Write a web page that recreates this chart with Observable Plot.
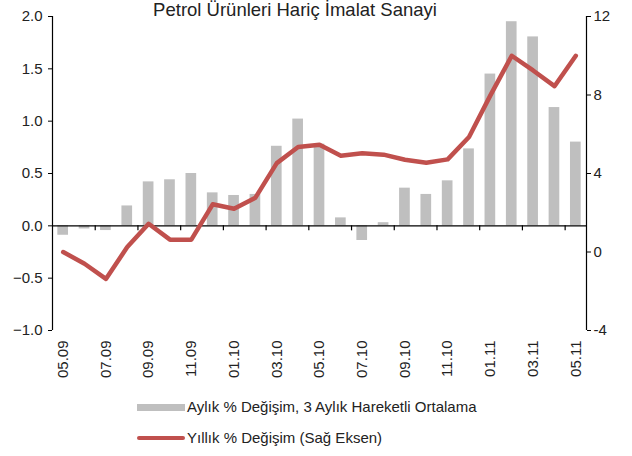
<!DOCTYPE html>
<html><head><meta charset="utf-8">
<script src="https://cdn.jsdelivr.net/npm/d3@7"></script>
<script src="https://cdn.jsdelivr.net/npm/@observablehq/plot@0.6"></script>
<style>
body{margin:0;background:#fff;font-family:"Liberation Sans",Arial,sans-serif;}
#wrap{position:relative;width:632px;height:456px;overflow:hidden;background:#fff}
#title{position:absolute;left:0;width:590px;text-align:center;top:0px;font-size:18.5px;color:#222;line-height:20px}
#chart{position:absolute;left:0;top:0}
.leg{position:absolute;left:137px;font-size:15px;line-height:18px;display:flex;align-items:center;color:#222;white-space:nowrap}
.sw{display:inline-block;width:48px;margin-right:2px}
</style></head>
<body>
<div id="wrap">
  <div id="chart"></div>
  <div id="title">Petrol Ürünleri Hariç İmalat Sanayi</div>
  <div class="leg" style="top:398px"><span class="sw" style="height:7px;background:#bfbfbf"></span>Aylık % Değişim, 3 Aylık Hareketli Ortalama</div>
  <div class="leg" style="top:429px"><span class="sw" style="height:4px;background:#c0504d;border-radius:2px"></span>Yıllık % Değişim (Sağ Eksen)</div>
</div>
<script>
const months = ["05.09","06.09","07.09","08.09","09.09","10.09","11.09","12.09",
  "01.10","02.10","03.10","04.10","05.10","06.10","07.10","08.10","09.10","10.10","11.10","12.10",
  "01.11","02.11","03.11","04.11","05.11"];
const monthly = [-0.09,-0.03,-0.045,0.19,0.42,0.44,0.50,0.315,
  0.29,0.30,0.76,1.02,0.78,0.076,-0.14,0.03,0.36,0.30,0.43,0.735,
  1.45,1.95,1.805,1.13,0.80];
const annual = [0.0,-0.6,-1.37,0.25,1.44,0.63,0.63,2.43,
  2.2,2.77,4.53,5.35,5.47,4.91,5.03,4.96,4.70,4.55,4.72,5.86,
  7.98,10.0,9.25,8.45,10.0];
const leftTicks = [-1,-0.5,0,0.5,1,1.5,2];
const rightTicks = [-4,0,4,8,12];

const toLeft = r => (3*r - 4)/16;
const fromLeft = v => Math.round((16*v + 4)/3);
const barData = months.map((m,i)=>({i, v: monthly[i]}));
const lineData = months.map((m,i)=>({i, v: toLeft(annual[i])}));
const labelIdx = months.map((m,i)=>i).filter(i=>i%2===0);
const tickPos = months.map((m,i)=>i).filter(i=>i%2===0 && i>0).map(i=>i-0.5);

const chart = Plot.plot({
  width:632, height:385, marginTop:16, marginBottom:55, marginLeft:52, marginRight:46,
  style:{fontFamily:'"Liberation Sans",Arial,sans-serif', fontSize:"15px", color:"#222", background:"transparent"},
  x:{domain:[-0.5,24.5], axis:null},
  y:{domain:[-1,2], axis:null},
  marks:[
    Plot.rectY(barData,{x1:d=>d.i-0.25, x2:d=>d.i+0.25, y1:0, y2:"v", fill:"#bfbfbf"}),
    Plot.ruleY([0],{stroke:"#000", strokeWidth:1.2}),
    Plot.ruleX(tickPos,{y1:0, y2:-0.048, stroke:"#000", strokeWidth:1.2}),
    Plot.ruleX([-0.5],{y1:-1, y2:2, stroke:"#000", strokeWidth:1.2}),
    Plot.ruleX([24.5],{y1:-1, y2:2, stroke:"#000", strokeWidth:1.2}),
    Plot.lineY(lineData,{x:"i", y:"v", stroke:"#c0504d", strokeWidth:4.5, strokeLinejoin:"round", strokeLinecap:"round"}),
    Plot.axisY({anchor:"left", label:null, ticks:leftTicks, tickFormat:d3.format(".1f"), tickSize:4, tickPadding:6, stroke:"#000"}),
    Plot.axisY({anchor:"right", label:null, ticks:rightTicks.map(toLeft), tickFormat:v=>String(fromLeft(v)), tickSize:4, tickPadding:3, stroke:"#000"}),
    Plot.axisX({anchor:"bottom", label:null, ticks:labelIdx, tickFormat:i=>months[i], tickRotate:-90, tickSize:0, tickPadding:10})
  ]
});
document.getElementById("chart").appendChild(chart);
</script>
</body></html>
